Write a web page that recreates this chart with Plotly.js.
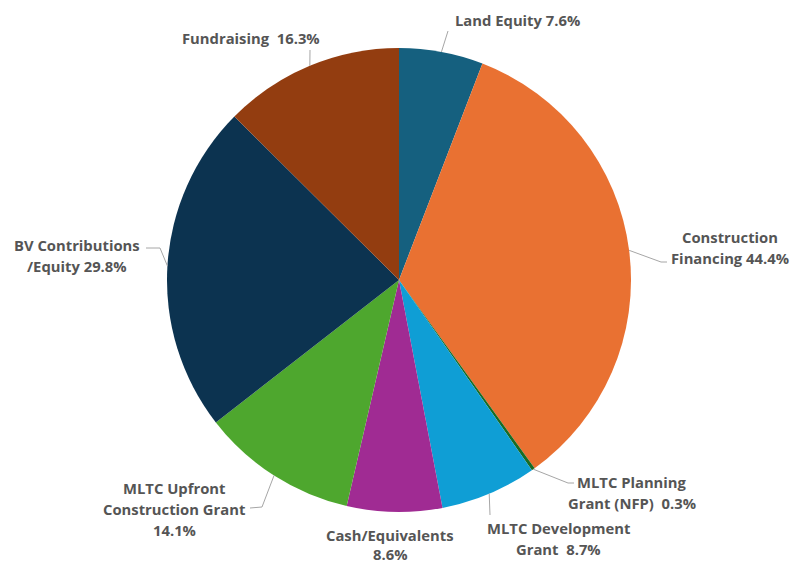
<!DOCTYPE html>
<html>
<head>
<meta charset="utf-8">
<script src="https://cdn.plot.ly/plotly-3.0.1.min.js"></script>
<style>html,body{margin:0;padding:0;background:#fff;}#chart{width:809px;height:564px;}</style>
</head>
<body>
<div id="chart"></div>
<script>
// ---- data ----
const categories = ['Land Equity', 'Construction Financing', 'MLTC Planning Grant (NFP)', 'MLTC Development Grant',
  'Cash/Equivalents', 'MLTC Upfront Construction Grant', 'BV Contributions /Equity', 'Fundraising'];
const values = [7.6, 44.4, 0.3, 8.7, 8.6, 14.1, 29.8, 16.3];
const labelLines = [
  ['Land Equity 7.6%'],
  ['Construction', 'Financing 44.4%'],
  ['MLTC Planning', 'Grant (NFP)  0.3%'],
  ['MLTC Development', 'Grant  8.7%'],
  ['Cash/Equivalents', '8.6%'],
  ['MLTC Upfront', 'Construction Grant', '14.1%'],
  ['BV Contributions', '/Equity 29.8%'],
  ['Fundraising  16.3%']
];
const colors = ['#15607F', '#E97132', '#196B24', '#0F9ED5', '#A02B93', '#4EA72E', '#0C3350', '#933D10'];

// ---- layout geometry ----
const W = 809, H = 564;
const domX = [0.1965, 0.7899], domY = [0.0922, 0.9149];
const cx = (domX[0] + domX[1]) / 2 * W;
const cy = (1 - (domY[0] + domY[1]) / 2) * H;
const R = Math.min((domX[1] - domX[0]) * W, (domY[1] - domY[0]) * H) / 2;

// label placement (pixel positions of text block centre of first line, line gap, and leader knees)
const labelPos = [
  {x: 517, y: 20, gap: 21, knees: [[448, 31]]},
  {x: 730, y: 237, gap: 21, knees: [[661, 262], [667, 262]]},
  {x: 632, y: 482, gap: 21, knees: [[568, 483], [574, 483]]},
  {x: 558, y: 528, gap: 21, knees: [[490, 515]]},
  {x: 390, y: 535, gap: 19, knees: null},
  {x: 174, y: 488, gap: 21, knees: [[262, 507], [250, 508]]},
  {x: 77, y: 245, gap: 21, knees: [[160, 248], [146, 248]]},
  {x: 251, y: 38, gap: 21, knees: [[310, 50]]}
];

const total = values.reduce((a, b) => a + b, 0);
const px = x => x / W, py = y => 1 - y / H;
const annotations = [], shapes = [];
let cum = 0;
values.forEach((v, i) => {
  const mid = (cum + v / 2) / total * 2 * Math.PI;
  cum += v;
  const ex = cx + R * Math.sin(mid), ey = cy - R * Math.cos(mid);
  const lp = labelPos[i];
  labelLines[i].forEach((t, k) => {
    annotations.push({
      xref: 'paper', yref: 'paper', x: px(lp.x), y: py(lp.y + k * lp.gap),
      xanchor: 'center', yanchor: 'middle', showarrow: false, text: t,
      font: {family: '"Open Sans", Roboto, sans-serif', size: 14.8, color: '#555555', weight: 700}
    });
  });
  if (lp.knees) {
    let path = 'M ' + px(ex) + ' ' + py(ey);
    lp.knees.forEach(k => { path += ' L ' + px(k[0]) + ' ' + py(k[1]); });
    shapes.push({type: 'path', xref: 'paper', yref: 'paper', path: path,
      line: {color: '#A6A6A6', width: 1}});
  }
});

const trace = {
  type: 'pie', labels: categories, values: values, sort: false, direction: 'clockwise', rotation: 0,
  marker: {colors: colors, line: {width: 0}}, textinfo: 'none', hoverinfo: 'label+value',
  domain: {x: domX, y: domY}, showlegend: false
};

Plotly.newPlot('chart', [trace], {
  width: W, height: H, margin: {l: 0, r: 0, t: 0, b: 0},
  paper_bgcolor: '#ffffff', plot_bgcolor: '#ffffff',
  annotations: annotations, shapes: shapes, showlegend: false
}, {displayModeBar: false, staticPlot: true});
</script>
</body>
</html>
